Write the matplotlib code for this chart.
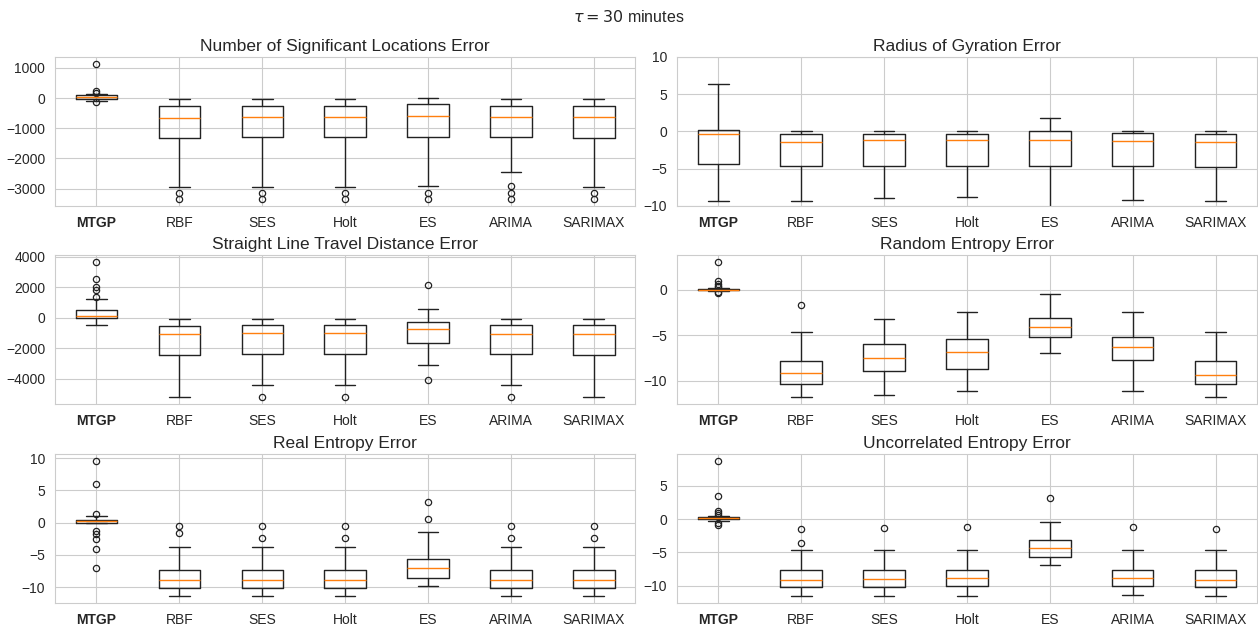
import matplotlib

matplotlib.use("Agg")

import matplotlib.pyplot as plt
import seaborn as sns

sns.set_style("whitegrid")
plt.rcParams["font.family"] = ["Liberation Sans", "DejaVu Sans"]

MODELS = ["MTGP", "RBF", "SES", "Holt", "ES", "ARIMA", "SARIMAX"]

# Number of significant locations error
NSL_MED = [45, -645, -620, -620, -590, -620, -640]
NSL_Q1 = [-40, -1310, -1300, -1300, -1280, -1290, -1310]
NSL_Q3 = [110, -245, -245, -245, -200, -245, -245]
NSL_LO = [-90, -2945, -2940, -2940, -2925, -2450, -2950]
NSL_HI = [150, -30, -30, -30, 0, -30, -30]
NSL_FLIERS = [
    [1140, 230, 180, -135],
    [-3150, -3330],
    [-3150, -3330],
    [-3150, -3330],
    [-3150, -3330],
    [-2920, -3140, -3350],
    [-3150, -3330],
]

# Radius of gyration error
RG_MED = [-0.36, -1.35, -1.17, -1.17, -1.2, -1.3, -1.4]
RG_Q1 = [-4.4, -4.7, -4.7, -4.7, -4.7, -4.6, -4.75]
RG_Q3 = [0.13, -0.31, -0.3, -0.3, 0.0, -0.2, -0.3]
RG_LO = [-9.35, -9.35, -8.9, -8.85, -11.5, -9.15, -9.35]
RG_HI = [6.35, 0.1, 0.1, 0.1, 1.85, 0.05, 0.05]
RG_FLIERS = [[], [], [], [], [], [], []]

# Straight line travel distance error
SLD_MED = [130, -1030, -990, -990, -720, -1030, -1030]
SLD_Q1 = [0, -2410, -2370, -2370, -1620, -2370, -2410]
SLD_Q3 = [545, -525, -500, -500, -290, -500, -500]
SLD_LO = [-480, -5200, -4400, -4400, -3080, -4400, -5200]
SLD_HI = [1220, -60, -50, -50, 590, -50, -50]
SLD_FLIERS = [
    [3670, 2550, 2000, 1850, 1380],
    [],
    [-5200],
    [-5200],
    [2120, -4050],
    [-5200],
    [],
]

# Random entropy error
RE_MED = [0.0, -9.1, -7.48, -6.87, -4.1, -6.25, -9.35]
RE_Q1 = [-0.05, -10.4, -8.95, -8.65, -5.15, -7.72, -10.4]
RE_Q3 = [0.1, -7.85, -5.95, -5.4, -3.1, -5.2, -7.85]
RE_LO = [-0.1, -11.8, -11.6, -11.14, -6.98, -11.14, -11.8]
RE_HI = [0.2, -4.64, -3.18, -2.45, -0.51, -2.45, -4.64]
RE_FLIERS = [
    [3.05, 1.0, 0.6, 0.45, 0.3, -0.25, -0.35],
    [-1.65],
    [],
    [],
    [],
    [],
    [],
]

# Real entropy error
REAL_MED = [0.3, -8.95, -8.95, -8.95, -7.06, -8.95, -8.95]
REAL_Q1 = [0.0, -10.1, -10.1, -10.1, -8.5, -10.1, -10.1]
REAL_Q3 = [0.43, -7.4, -7.4, -7.4, -5.67, -7.4, -7.4]
REAL_LO = [-0.05, -11.4, -11.4, -11.4, -9.75, -11.4, -11.4]
REAL_HI = [1.0, -3.8, -3.8, -3.8, -1.4, -3.8, -3.8]
REAL_FLIERS = [
    [9.6, 5.95, 1.3, -1.25, -1.8, -2.45, -4.0, -6.95],
    [-0.5, -1.65],
    [-0.5, -2.35],
    [-0.5, -2.35],
    [3.27, 0.52],
    [-0.5, -2.35],
    [-0.5, -2.35],
]

# Uncorrelated entropy error
UE_MED = [0.15, -9.2, -9.0, -8.9, -4.4, -8.9, -9.2]
UE_Q1 = [0.0, -10.25, -10.25, -10.05, -5.7, -10.05, -10.25]
UE_Q3 = [0.3, -7.7, -7.65, -7.65, -3.1, -7.65, -7.7]
UE_LO = [-0.3, -11.6, -11.5, -11.5, -6.9, -11.35, -11.6]
UE_HI = [0.45, -4.62, -4.62, -4.62, -0.5, -4.62, -4.62]
UE_FLIERS = [
    [8.75, 3.4, 1.2, 0.9, 0.6, -0.6, -0.85],
    [-1.55, -3.56],
    [-1.36],
    [-1.26],
    [3.22],
    [-1.26],
    [-1.5],
]

PANELS = [
    ("Number of Significant Locations Error", NSL_MED, NSL_Q1, NSL_Q3, NSL_LO, NSL_HI, NSL_FLIERS),
    ("Radius of Gyration Error", RG_MED, RG_Q1, RG_Q3, RG_LO, RG_HI, RG_FLIERS),
    ("Straight Line Travel Distance Error", SLD_MED, SLD_Q1, SLD_Q3, SLD_LO, SLD_HI, SLD_FLIERS),
    ("Random Entropy Error", RE_MED, RE_Q1, RE_Q3, RE_LO, RE_HI, RE_FLIERS),
    ("Real Entropy Error", REAL_MED, REAL_Q1, REAL_Q3, REAL_LO, REAL_HI, REAL_FLIERS),
    ("Uncorrelated Entropy Error", UE_MED, UE_Q1, UE_Q3, UE_LO, UE_HI, UE_FLIERS),
]


def make_stats(med, q1, q3, lo, hi, fliers):
    return [
        dict(med=m, q1=a, q3=b, whislo=w0, whishi=w1, fliers=f)
        for m, a, b, w0, w1, f in zip(med, q1, q3, lo, hi, fliers)
    ]


fig = plt.figure(figsize=(12.58, 6.26), dpi=100)

col_left = [0.0437, 0.538]
row_bottom = [0.671, 0.3546, 0.0367]
ax_w, ax_h = 0.4613, 0.238

line = dict(color="#222222", linewidth=1.0)
for i, (title, med, q1, q3, lo, hi, fl) in enumerate(PANELS):
    r, c = divmod(i, 2)
    ax = fig.add_axes([col_left[c], row_bottom[r], ax_w, ax_h])
    ax.bxp(
        make_stats(med, q1, q3, lo, hi, fl),
        positions=range(1, len(MODELS) + 1),
        widths=0.5,
        boxprops=line,
        whiskerprops=line,
        capprops=line,
        medianprops=dict(color="#ff7f0e", linewidth=1.0),
        flierprops=dict(marker="o", markersize=4.5, markerfacecolor="none",
                        markeredgecolor="#222222", markeredgewidth=0.9),
    )
    ax.set_xticks(range(1, len(MODELS) + 1))
    ax.set_xticklabels(MODELS, fontsize=10)
    ax.get_xticklabels()[0].set_fontweight("bold")
    ax.tick_params(axis="y", labelsize=10)
    ax.set_title(title, fontsize=12.5, pad=4)
    if title.startswith("Radius"):
        ax.set_ylim(-10, 10)

fig.suptitle(r"$\tau = 30$ minutes", fontsize=11.5, y=0.985)
fig.savefig("out.png", dpi=100)
